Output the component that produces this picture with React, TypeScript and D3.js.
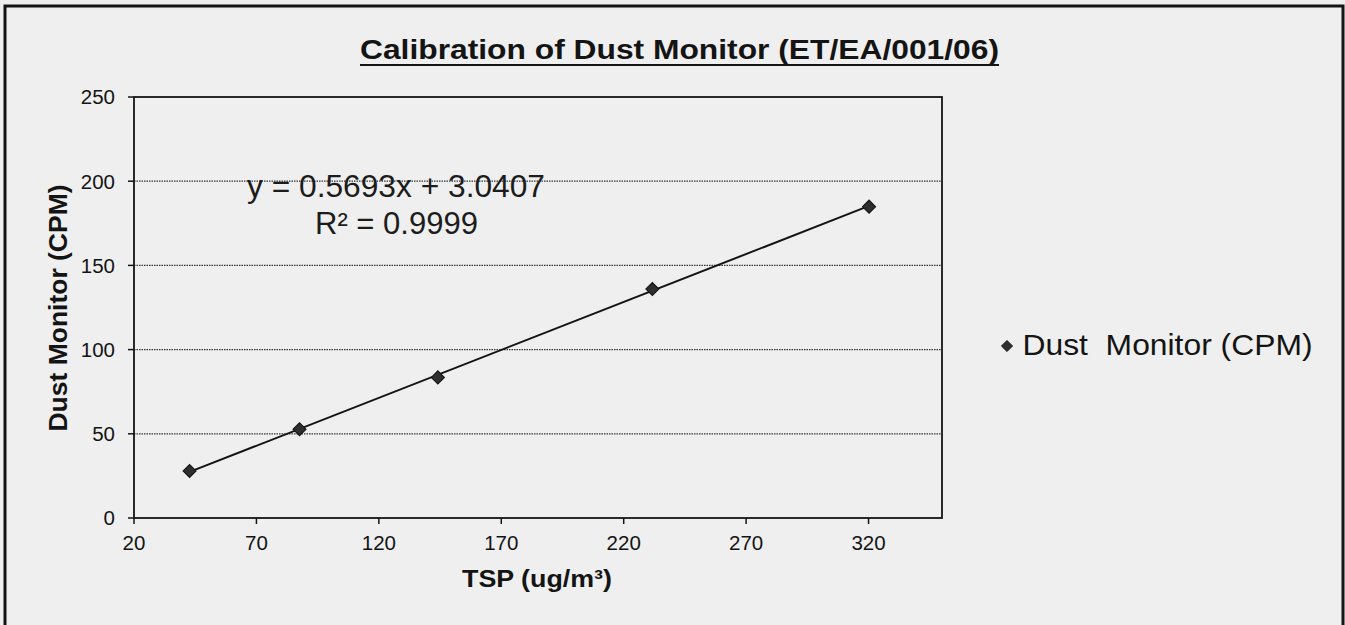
import React from 'react';
import * as d3 from 'd3';

// readings from the scanned chart
const tspValues = [42.7, 87.6, 144.1, 231.7, 320.2];
const dustValues = [27.9, 52.7, 83.5, 136, 184.9];
const xTicks = [20, 70, 120, 170, 220, 270, 320];
const yTicks = [0, 50, 100, 150, 200, 250];
const slope = 0.5693;
const intercept = 3.0407;
const rSquared = '0.9999';

const W = 1345;
const H = 625;
const PLOT = { left: 134, right: 942, top: 97, bottom: 518 };
const FONT = 'Liberation Sans, Arial, Helvetica, sans-serif';
const INK = '#141414';

export default function App() {
  const x = d3.scaleLinear().domain([20, 350]).range([PLOT.left, PLOT.right]);
  const y = d3.scaleLinear().domain([0, 250]).range([PLOT.bottom, PLOT.top]);

  const points = tspValues.map((t, i) => ({ t, d: dustValues[i] }));
  const xMin = d3.min(tspValues) as number;
  const xMax = d3.max(tspValues) as number;
  const trend = d3.line<number>()
    .x(v => x(v))
    .y(v => y(slope * v + intercept))([xMin, xMax]);

  const diamond = d3.symbol().type(d3.symbolSquare).size(86)();

  return (
    <div style={{ position: 'absolute', left: 0, top: 0, width: W, height: H, overflow: 'hidden' }}>
      <svg width={W} height={H} style={{ display: 'block' }} fontFamily={FONT}>
        <rect x={0} y={0} width={W} height={H} fill="#efefef" />
        {/* outer frame */}
        <rect x={5} y={6} width={1338} height={H + 10} fill="none" stroke={INK} strokeWidth={3} />

        {/* title */}
        <text x={679.5} y={59} textAnchor="middle" fontSize={28} fontWeight="bold" fill={INK}
          textLength={639} lengthAdjust="spacingAndGlyphs">
          Calibration of Dust Monitor (ET/EA/001/06)
        </text>
        <line x1={360} x2={999} y1={65} y2={65} stroke={INK} strokeWidth={2} />

        {/* gridlines */}
        {yTicks.filter(v => v > 0 && v < 250).map(v => (
          <line key={'g' + v} x1={PLOT.left} x2={PLOT.right} y1={y(v)} y2={y(v)}
            stroke="#333" strokeWidth={1.2} strokeDasharray="1.5,1" />
        ))}

        {/* plot frame */}
        <rect x={PLOT.left} y={PLOT.top} width={PLOT.right - PLOT.left} height={PLOT.bottom - PLOT.top}
          fill="none" stroke={INK} strokeWidth={1.8} />

        {/* y axis ticks and labels */}
        {yTicks.map(v => (
          <g key={'y' + v}>
            <line x1={PLOT.left - 6} x2={PLOT.left} y1={y(v)} y2={y(v)} stroke={INK} strokeWidth={1.5} />
            <text x={115} y={y(v)} dy="0.36em" textAnchor="end" fontSize={20.5} fill={INK}>{v}</text>
          </g>
        ))}

        {/* x axis ticks and labels */}
        {xTicks.map(v => (
          <g key={'x' + v}>
            <line x1={x(v)} x2={x(v)} y1={PLOT.bottom} y2={PLOT.bottom + 6} stroke={INK} strokeWidth={1.5} />
            <text x={x(v)} y={550} textAnchor="middle" fontSize={20.5} fill={INK}>{v}</text>
          </g>
        ))}

        {/* axis titles */}
        <text x={537} y={587} textAnchor="middle" fontSize={24} fontWeight="bold" fill={INK}
          textLength={150} lengthAdjust="spacingAndGlyphs">
          TSP (ug/m<tspan>³</tspan>)
        </text>
        <text transform="translate(67,308) rotate(-90)" textAnchor="middle" fontSize={26} fontWeight="bold"
          fill={INK} textLength={247} lengthAdjust="spacingAndGlyphs">
          Dust Monitor (CPM)
        </text>

        {/* trendline */}
        <path d={trend ?? ''} fill="none" stroke={INK} strokeWidth={2} />

        {/* data points */}
        {points.map((p, i) => (
          <path key={i} d={diamond ?? ''} transform={`translate(${x(p.t)},${y(p.d)}) rotate(45)`}
            fill="#2e2e2e" stroke="#111" strokeWidth={1} />
        ))}

        {/* trendline equation */}
        <text x={396} y={197} textAnchor="middle" fontSize={31} fill="#1c1c1c"
          textLength={298} lengthAdjust="spacingAndGlyphs">
          {`y = ${slope}x + ${intercept}`}
        </text>
        <text x={396.5} y={234} textAnchor="middle" fontSize={31} fill="#1c1c1c"
          textLength={163} lengthAdjust="spacingAndGlyphs">
          {`R² = ${rSquared}`}
        </text>

        {/* legend */}
        <path d={diamond ?? ''} transform="translate(1007,346) rotate(45) scale(0.85)" fill="#2e2e2e" stroke="#111" strokeWidth={1} />
        <text x={1022.5} y={355} fontSize={30} fill={INK} style={{ whiteSpace: 'pre' }}
          textLength={290} lengthAdjust="spacingAndGlyphs">
          {'Dust  Monitor (CPM)'}
        </text>
      </svg>
    </div>
  );
}
